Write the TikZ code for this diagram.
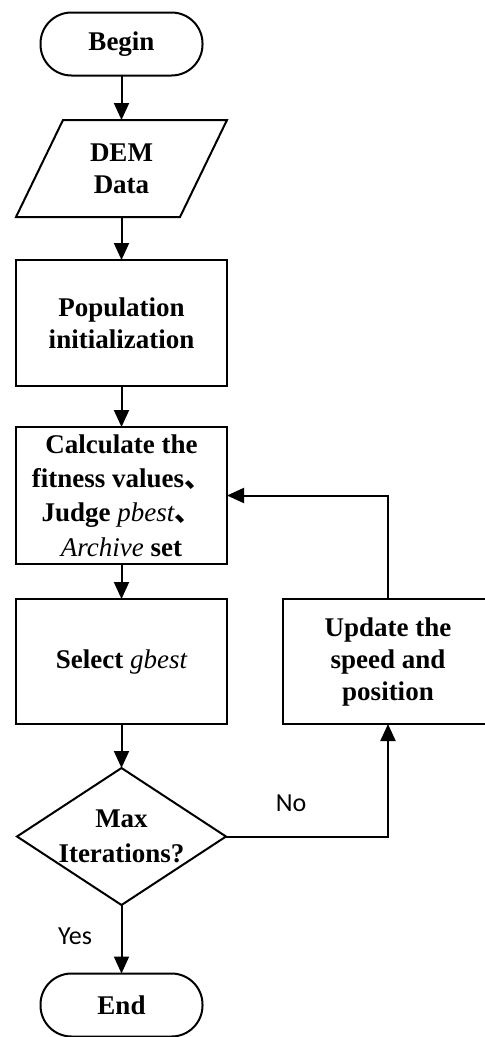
\documentclass[tikz,border=0pt]{standalone}
\usepackage{fontspec}
\setmainfont{Liberation Serif}
\newfontfamily\cjk{Noto Sans CJK SC}
\newfontfamily\lblfont{Carlito}
\usetikzlibrary{shapes.geometric,arrows.meta}
\begin{document}
\begin{tikzpicture}[x=1pt,y=-1pt,
  every node/.style={inner sep=0pt, outer sep=0pt},
  txt/.style={align=center, font=\bfseries\fontsize{27}{32}\selectfont},
  ln/.style={line width=2pt},
  arr/.style={line width=2pt, -{Triangle[length=17pt,width=15pt]}},
  proc/.style={txt, draw, line width=2pt, minimum width=211pt},
  term/.style={txt, draw, line width=2pt, rounded corners=31pt, minimum width=162pt, minimum height=63pt},
  lbl/.style={font=\lblfont\fontsize{26}{30}\selectfont}]
\useasboundingbox (0,0) rectangle (485,1037);
\clip (0,0) rectangle (485,1037);

\node[term] (begin) at (121.5,44) {Begin};
\node[txt, minimum width=164pt, minimum height=97pt] (dem) at (121.5,168.5) {DEM\\Data};
\draw[ln, line join=miter] (63,120) -- (227,120) -- (180,217) -- (16,217) -- cycle;
\node[proc, minimum height=126pt] (pop) at (121.5,323) {Population\\initialization};
\node[proc, minimum height=137pt, font=\bfseries\fontsize{27}{34.3}\selectfont] (calc) at (121.5,495.5)
  {Calculate the\\fitness values{\cjk 、}\\Judge {\mdseries\itshape pbest}{\cjk 、}\\{\mdseries\itshape Archive} set};
\node[proc, minimum height=125pt] (sel) at (121.5,661.5) {Select {\mdseries\itshape gbest}};
\node[proc, minimum width=210pt, minimum height=125pt] (upd) at (388,661.5) {Update the\\speed and\\position};
\node[diamond, draw, ln, minimum width=209pt, minimum height=137pt] (dec) at (121.5,836.5) {};
\node[txt, font=\bfseries\fontsize{27}{35}\selectfont] (dectext) at (121.5,836) {Max\\Iterations?};
\node[term] (end) at (121.5,1005) {End};

\draw[arr] (begin) -- (dem.north);
\draw[arr] (dem.south) -- (pop);
\draw[arr] (pop) -- (calc);
\draw[arr] (calc) -- (sel);
\draw[arr] (sel) -- (dec);
\draw[arr] (dec) -- (end);
\draw[arr] (dec.east) -| (upd.south);
\draw[arr] (upd.north) |- (calc.east);
\node[lbl] (no) at (291,803) {No};
\node[lbl] (yes) at (75,936) {Yes};
\end{tikzpicture}
\end{document}
